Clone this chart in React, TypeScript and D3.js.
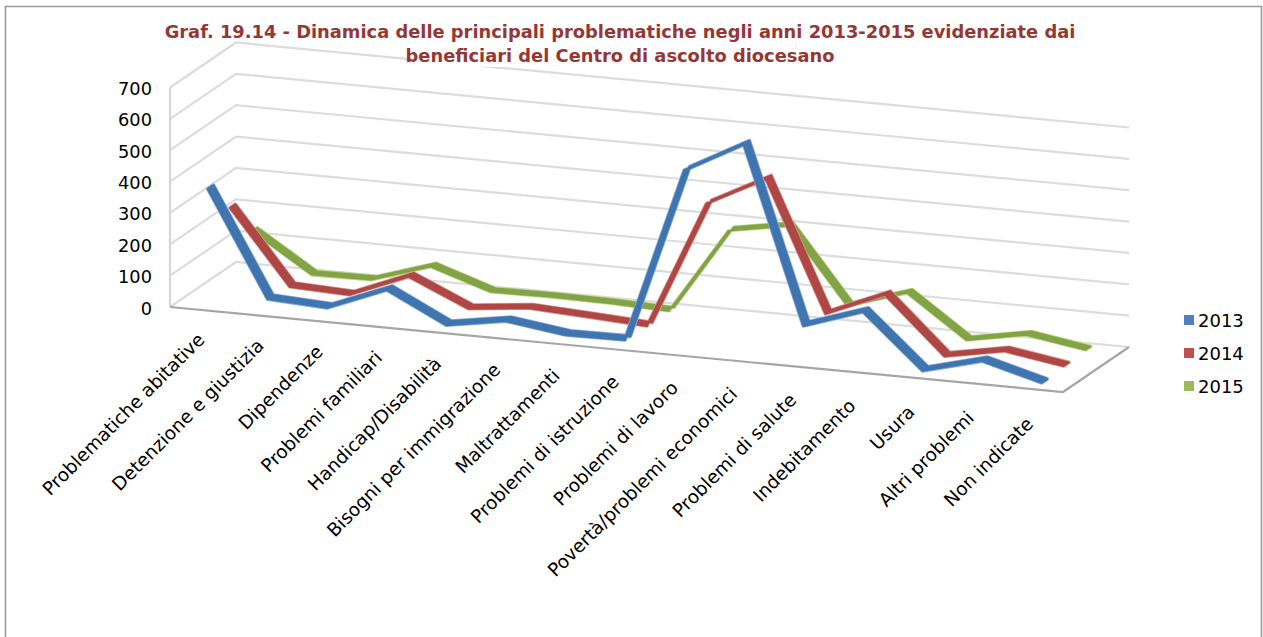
import React from "react";
import * as d3 from "d3";

const categories = [
  "Problematiche abitative", "Detenzione e giustizia", "Dipendenze", "Problemi familiari",
  "Handicap/Disabilità", "Bisogni per immigrazione", "Maltrattamenti", "Problemi di istruzione",
  "Problemi di lavoro", "Povertà/problemi economici", "Problemi di salute", "Indebitamento",
  "Usura", "Altri problemi", "Non indicate",
];
const years = ["2013", "2014", "2015"];
const values2013 = [367, 35, 25, 100, 6, 37, 11, 13, 571, 672, 112, 175, 5, 54, 3];
const values2014 = [259, 26, 18, 94, 10, 30, 20, 9, 417, 514, 102, 181, 3, 38, 8];
const values2015 = [137, 16, 18, 78, 16, 18, 16, 9, 283, 316, 79, 139, 6, 41, 11];
const seriesValues = [values2013, values2014, values2015];
const fills = ["#3F74AF", "#AE4744", "#83A346"];
const edges = ["#86ACDA", "#D99490", "#BAD384"];
const legendColors = ["#4F81BD", "#C0504D", "#9BBB59"];
const ticks = [0, 100, 200, 300, 400, 500, 600, 700];
const titleLines = [
  "Graf. 19.14 - Dinamica delle principali problematiche negli anni 2013-2015 evidenziate dai",
  "beneficiari del Centro di ascolto diocesano",
];
const edgeWidths = [4.2, 3.6, 3.2];
const coreWidths = [2.5, 2.0, 1.6];

const W = 1263, H = 637;
const FONT = "'DejaVu Sans', Verdana, sans-serif";
// oblique projection of the 3D box
const alongX = d3.scaleLinear().domain([0, 15]).range([170, 1063]);
const alongY = d3.scaleLinear().domain([0, 15]).range([307, 392]);
const depthX = d3.scaleLinear().domain([0, 1]).range([0, 66]);
const depthY = d3.scaleLinear().domain([0, 1]).range([0, -45]);
const rise = d3.scaleLinear().domain([0, 700]).range([0, -219.5]);
// tick label offsets drift slightly along the axis
const labelDx = d3.scaleLinear().domain([0, 14]).range([6, 1]);
const labelDy = d3.scaleLinear().domain([0, 14]).range([31, 36]);

const px = (c: number, depth: number) => alongX(c) + depthX(depth);
const py = (c: number, depth: number, v: number) => alongY(c) + depthY(depth) + rise(v);

const seriesDepth = (s: number) => (s + 0.5) / 3;
const halfRibbon = 0.04;

export default function App() {
  const ribbons = [2, 1, 0].map((s) => {
    const vals = seriesValues[s];
    const d = seriesDepth(s);
    const area = d3
      .area<number>()
      .x0((_, i) => px(i + 0.5, d - halfRibbon))
      .y0((v, i) => py(i + 0.5, d - halfRibbon, v))
      .x1((_, i) => px(i + 0.5, d + halfRibbon))
      .y1((v, i) => py(i + 0.5, d + halfRibbon, v));
    return { s, path: area(vals) as string };
  });
  const grid = d3.line<[number, number]>();

  return (
    <svg
      width={W}
      height={H}
      style={{ position: "fixed", left: 0, top: 0, display: "block", background: "#fff" }}
    >
      <defs>
        <filter id="soft" x="-5%" y="-5%" width="110%" height="110%">
          <feGaussianBlur stdDeviation="0.6" />
        </filter>
      </defs>
      <path d="M5.5 637V6.5H1261.5V637" fill="none" stroke="#9a9a9a" strokeWidth={1.6} />
      <g filter="url(#soft)">
        {ticks.map((t) => (
          <path
            key={t}
            d={
              grid([
                [px(0, 0), py(0, 0, t)],
                [px(0, 1), py(0, 1, t)],
                [px(15, 1), py(15, 1, t)],
              ]) as string
            }
            fill="none"
            stroke="#dcdcdc"
            strokeWidth={2.2}
          />
        ))}
        <path
          d={
            grid([
              [px(0, 0), py(0, 0, 0)],
              [px(0, 0), py(0, 0, 700)],
            ]) as string
          }
          stroke="#d6d6d6"
          strokeWidth={2.2}
          fill="none"
        />
        <path
          d={
            grid([
              [px(0, 0), py(0, 0, 0)],
              [px(15, 0), py(15, 0, 0)],
              [px(15, 1), py(15, 1, 0)],
            ]) as string
          }
          stroke="#a6a6a6"
          strokeWidth={2.2}
          fill="none"
        />
        {ribbons.map((r) => (
          <g key={r.s}>
            <path d={r.path} fill={edges[r.s]} stroke={edges[r.s]} strokeWidth={edgeWidths[r.s]} strokeLinejoin="round" />
            <path d={r.path} fill={fills[r.s]} stroke={fills[r.s]} strokeWidth={coreWidths[r.s]} strokeLinejoin="round" />
          </g>
        ))}
      </g>
      <rect x={415} y={46} width={440} height={21} fill="#fff" />
      {titleLines.map((t, i) => (
        <text
          key={i}
          x={620}
          y={38 + i * 23.5}
          textAnchor="middle"
          fontFamily={FONT}
          fontWeight="bold"
          fontSize={17.85}
          fill="#953735"
        >
          {t}
        </text>
      ))}
      {ticks.map((t) => (
        <text
          key={t}
          x={152}
          y={py(0, 0, t) + 7.5}
          textAnchor="end"
          fontFamily={FONT}
          fontSize={17.8}
          fill="#000"
        >
          {t}
        </text>
      ))}
      {categories.map((c, i) => (
        <text
          key={c}
          transform={`translate(${px(i + 0.5, 0) + labelDx(i)},${py(i + 0.5, 0, 0) + labelDy(i)}) rotate(-45)`}
          textAnchor="end"
          fontFamily={FONT}
          fontSize={18.5}
          fill="#000"
        >
          {c}
        </text>
      ))}
      {years.map((y, i) => (
        <g key={y}>
          <rect x={1184} y={315 + i * 33} width={10} height={10} fill={legendColors[i]} />
          <text x={1198} y={327 + i * 33} fontFamily={FONT} fontSize={18} fill="#000">
            {y}
          </text>
        </g>
      ))}
    </svg>
  );
}
